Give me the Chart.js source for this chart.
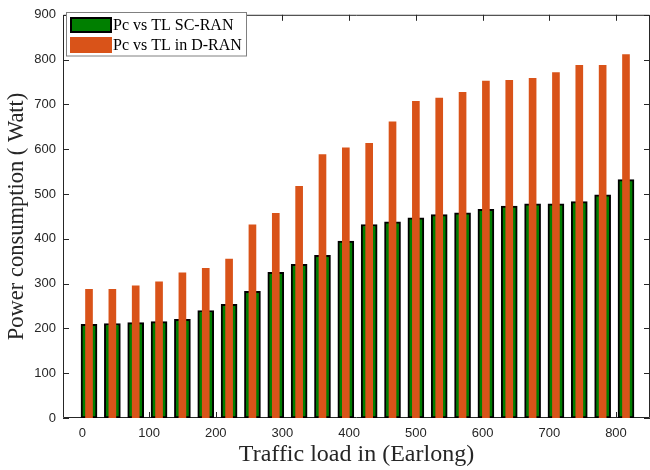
<!DOCTYPE html>
<html>
<head>
<meta charset="utf-8">
<script src="https://cdn.jsdelivr.net/npm/chart.js@4"></script>
<style>
  body { margin: 0; background: #fff; }
  #wrap { width: 650px; height: 470px; }
</style>
</head>
<body>
<div id="wrap"><canvas id="powerChart" width="650" height="470"></canvas></div>
<script>
// traffic load (Earlong) for each bar group
const trafficLoad = [10, 45, 80, 115, 150, 185, 220, 255, 290, 325, 360, 395,
                     430, 465, 500, 535, 570, 605, 640, 675, 710, 745, 780, 815];
// power consumption (Watt)
const pcScRan = [209, 211, 213, 215, 220, 240, 254, 283, 325, 343, 363, 395,
                 432, 438, 447, 454, 458, 466, 473, 478, 478, 483, 498, 532];
const pcDRan  = [287, 287, 295, 304, 324, 334, 355, 431, 457, 517, 588, 603,
                 613, 661, 707, 714, 727, 752, 754, 758, 771, 787, 787, 811];
const seriesNames = ["Pc vs TL SC-RAN", "Pc vs TL in D-RAN"];

const axisColor = "#262626";
const serif = "'Liberation Serif', 'Times New Roman', serif";
const sans = "'Liberation Sans', Arial, Helvetica, sans-serif";

const toPoints = vals => trafficLoad.map((x, i) => ({ x: x, y: vals[i] }));

// matlab-ish box with inward ticks, drawn under the bars
const boxPlugin = {
    id: "boxAxes",
    beforeDatasetsDraw(chart) {
        const { ctx, chartArea: a, scales } = chart;
        const len = 6;
        ctx.save();
        ctx.strokeStyle = axisColor;
        ctx.lineWidth = 1;
        ctx.beginPath();
        ctx.rect(a.left + 0.5, a.top + 0.5, a.right - a.left - 1, a.bottom - a.top - 1);
        scales.x.ticks.forEach(t => {
            const px = Math.round(scales.x.getPixelForValue(t.value)) + 0.5;
            ctx.moveTo(px, a.bottom); ctx.lineTo(px, a.bottom - len);
            ctx.moveTo(px, a.top);    ctx.lineTo(px, a.top + len);
        });
        scales.y.ticks.forEach(t => {
            const py = Math.round(scales.y.getPixelForValue(t.value)) + 0.5;
            ctx.moveTo(a.left, py);  ctx.lineTo(a.left + len, py);
            ctx.moveTo(a.right, py); ctx.lineTo(a.right - len, py);
        });
        ctx.stroke();
        ctx.restore();
    }
};

// legend box inside the top-left corner of the plot
const insideLegend = {
    id: "insideLegend",
    afterDraw(chart) {
        const { ctx } = chart;
        const ds = chart.data.datasets;
        ctx.save();
        ctx.fillStyle = "#fff";
        ctx.fillRect(66.5, 12.5, 180, 43.5);
        ctx.strokeStyle = "#808080";
        ctx.lineWidth = 1;
        ctx.strokeRect(66.5, 12.5, 180, 43.5);
        ds.forEach((d, i) => {
            const rowY = 17 + i * 20;
            ctx.fillStyle = d.backgroundColor;
            ctx.fillRect(70, rowY, 42, 16);
            if (d.borderWidth) {
                ctx.strokeStyle = d.borderColor;
                ctx.lineWidth = 2;
                ctx.strokeRect(71, rowY + 1, 40, 14);
            }
            ctx.fillStyle = "#000";
            ctx.font = "16px " + serif;
            ctx.textBaseline = "middle";
            ctx.fillText(d.label, 113, rowY + 8.5);
        });
        ctx.restore();
    }
};

const data = {
    datasets: [{
        label: seriesNames[0],
        data: toPoints(pcScRan),
        backgroundColor: "rgb(0,127,0)",
        borderColor: "#000",
        borderWidth: 2,
        borderSkipped: false,
        barThickness: 16,
        order: 2
    }, {
        label: seriesNames[1],
        data: toPoints(pcDRan),
        backgroundColor: "rgb(217,83,25)",
        borderWidth: 0,
        barThickness: 7,
        order: 1
    }]
};

const config = {
    type: "bar",
    data: data,
    options: {
        responsive: false,
        animation: false,
        layout: { padding: { top: 10, right: 0, left: 0, bottom: 0 } },
        datasets: { bar: { grouped: false } },
        plugins: { legend: { display: false }, tooltip: { enabled: false } },
        scales: {
            x: {
                type: "linear",
                min: -29,
                max: 851,
                offset: false,
                afterFit: s => { s.height = 52; },
                grid: { display: false, drawTicks: false },
                border: { display: false },
                ticks: {
                    stepSize: 100,
                    includeBounds: false,
                    maxRotation: 0,
                    padding: 8,
                    color: axisColor,
                    font: { family: sans, size: 13 }
                },
                title: {
                    display: true,
                    text: "Traffic load in (Earlong)",
                    color: axisColor,
                    padding: { top: 4, bottom: 1 },
                    font: { family: serif, size: 24 }
                }
            },
            y: {
                min: 0,
                max: 900,
                afterFit: s => { s.width = 63; },
                grid: { display: false, drawTicks: false },
                border: { display: false },
                ticks: {
                    stepSize: 100,
                    padding: 7,
                    color: axisColor,
                    font: { family: sans, size: 13 }
                },
                title: {
                    display: true,
                    text: "Power consumption ( Watt)",
                    color: axisColor,
                    padding: { top: 4, bottom: 0 },
                    font: { family: serif, size: 22.5 }
                }
            }
        }
    },
    plugins: [boxPlugin, insideLegend]
};

const powerChart = new Chart(document.getElementById("powerChart"), config);
</script>
</body>
</html>
